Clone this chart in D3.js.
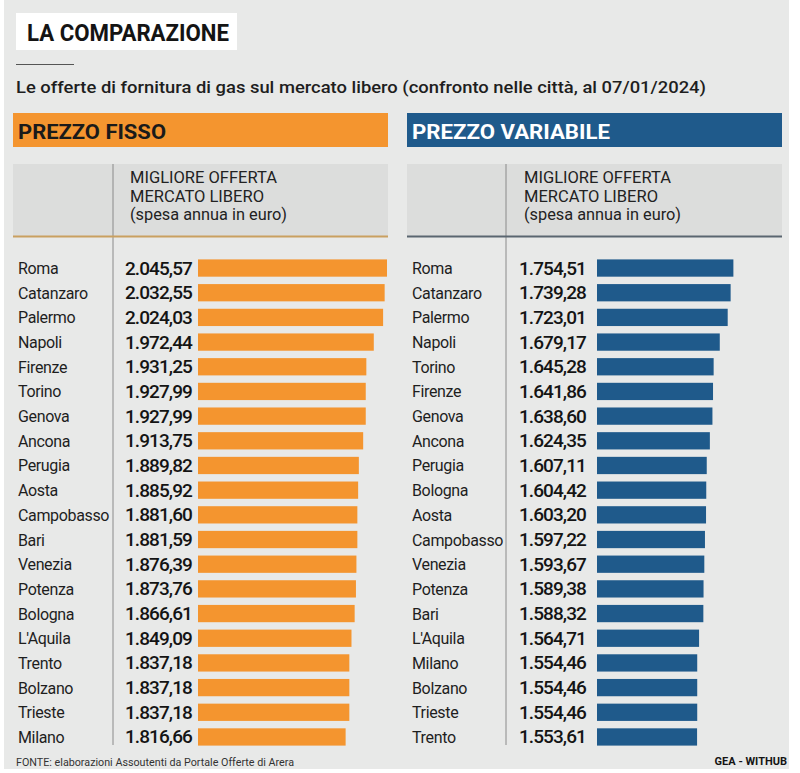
<!DOCTYPE html>
<html><head><meta charset="utf-8">
<script src="https://cdn.jsdelivr.net/npm/d3@7"></script>
<style>
html,body{margin:0;padding:0;background:#fff;}
svg{display:block;font-family:Roboto,"Noto Sans",sans-serif;}
</style></head>
<body>
<script>
const fixedCities = ["Roma","Catanzaro","Palermo","Napoli","Firenze","Torino","Genova","Ancona","Perugia","Aosta","Campobasso","Bari","Venezia","Potenza","Bologna","L'Aquila","Trento","Bolzano","Trieste","Milano"];
const fixedValues = [2045.57,2032.55,2024.03,1972.44,1931.25,1927.99,1927.99,1913.75,1889.82,1885.92,1881.60,1881.59,1876.39,1873.76,1866.61,1849.09,1837.18,1837.18,1837.18,1816.66];
const varCities = ["Roma","Catanzaro","Palermo","Napoli","Torino","Firenze","Genova","Ancona","Perugia","Bologna","Aosta","Campobasso","Venezia","Potenza","Bari","L'Aquila","Milano","Bolzano","Trieste","Trento"];
const varValues = [1754.51,1739.28,1723.01,1679.17,1645.28,1641.86,1638.60,1624.35,1607.11,1604.42,1603.20,1597.22,1593.67,1589.38,1588.32,1564.71,1554.46,1554.46,1554.46,1553.61];
const panelTitles = ["PREZZO FISSO","PREZZO VARIABILE"];
const colHeader = ["MIGLIORE OFFERTA","MERCATO LIBERO","(spesa annua in euro)"];
const title = "LA COMPARAZIONE";
const subtitle = "Le offerte di fornitura di gas sul mercato libero (confronto nelle città, al 07/01/2024)";
const source = "FONTE: elaborazioni Assoutenti da Portale Offerte di Arera";
const credit = "GEA - WITHUB";

const W = 800, H = 773;
const svg = d3.select("body").append("svg").attr("width", W).attr("height", H);
svg.append("rect").attr("x",4).attr("y",0).attr("width",785).attr("height",769).attr("fill","#e8e9e8");

// title
svg.append("rect").attr("x",16).attr("y",13).attr("width",221).attr("height",37).attr("fill","#ffffff");
svg.append("text").attr("x",27).attr("y",41).text(title)
  .attr("font-size",23).attr("font-weight",700).attr("fill","#141414")
  .attr("textLength",202).attr("lengthAdjust","spacingAndGlyphs");
svg.append("line").attr("x1",16).attr("x2",74).attr("y1",64.5).attr("y2",64.5).attr("stroke","#555").attr("stroke-width",1.2);
svg.append("text").attr("x",16).attr("y",93).text(subtitle)
  .attr("font-size",17).attr("font-weight",500).attr("fill","#1e1e1e")
  .attr("textLength",690).attr("lengthAdjust","spacingAndGlyphs");

const fmt = v => {
  const s = v.toFixed(2).split(".");
  return s[0].replace(/\B(?=(\d{3})+(?!\d))/g, ".") + "," + s[1];
};

const x = d3.scaleLinear().domain([1000, 2045.57]).range([0, 189]);

const panels = [
  {x0: 13, cities: fixedCities, values: fixedValues, color: "#f4952f", titleColor:"#1a1a1a", lineColor:"#c9a060", tlen:148, bx:185, lx:179, vline:100},
  {x0: 407, cities: varCities, values: varValues, color: "#1f5a8b", titleColor:"#ffffff", lineColor:"#5a6670", tlen:198, bx:190, lx:179, vline:99}
];

panels.forEach((p, i) => {
  const g = svg.append("g").attr("transform", `translate(${p.x0},0)`);
  g.append("rect").attr("x",0).attr("y",113).attr("width",375).attr("height",34).attr("fill",p.color);
  g.append("text").attr("x",5).attr("y",139).text(panelTitles[i])
    .attr("font-size",21).attr("font-weight",700).attr("fill",p.titleColor)
    .attr("textLength",p.tlen).attr("lengthAdjust","spacingAndGlyphs");
  g.append("rect").attr("x",0).attr("y",164).attr("width",375).attr("height",72).attr("fill","#dcdddc");
  g.append("line").attr("x1",p.vline).attr("x2",p.vline).attr("y1",164).attr("y2",745).attr("stroke","#8a8a8a").attr("stroke-width",1);
  colHeader.forEach((t, k) => {
    g.append("text").attr("x",117).attr("y",183 + k*18.5).text(t)
      .attr("font-size",16).attr("fill","#222")
      .attr("textLength",[147,134,157][k]).attr("lengthAdjust","spacingAndGlyphs");
  });
  g.append("line").attr("x1",0).attr("x2",375).attr("y1",236.5).attr("y2",236.5).attr("stroke",p.lineColor).attr("stroke-width",2);

  const y = d3.scaleBand().domain(p.cities).range([255.7, 749.3]).paddingInner(0.3).paddingOuter(0.15);
  const rows = g.selectAll("g.row").data(p.cities.map((c, k) => ({c, v: p.values[k]}))).join("g").attr("class","row");
  rows.append("rect").attr("x", p.bx).attr("y", d => y(d.c)).attr("height", y.bandwidth())
    .attr("width", d => x(d.v)).attr("fill", p.color);
  rows.append("text").attr("x",5).attr("y", d => y(d.c) + y.bandwidth()/2 + 6).text(d => d.c)
    .attr("font-size",16).attr("fill","#1e1e1e").attr("letter-spacing",-0.35);
  rows.append("text").attr("x",p.lx).attr("y", d => y(d.c) + y.bandwidth()/2 + 6.5).text(d => fmt(d.v))
    .attr("text-anchor","end").attr("font-size",19).attr("font-weight",500).attr("fill","#141414")
    .attr("letter-spacing",-0.9);
});

svg.append("text").attr("x",16).attr("y",766).text(source)
  .attr("font-size",11).attr("fill","#333").attr("textLength",278).attr("lengthAdjust","spacingAndGlyphs");
svg.append("text").attr("x",787).attr("y",765).text(credit).attr("text-anchor","end")
  .attr("font-size",11).attr("font-weight",700).attr("fill","#141414");
</script>
</body></html>
